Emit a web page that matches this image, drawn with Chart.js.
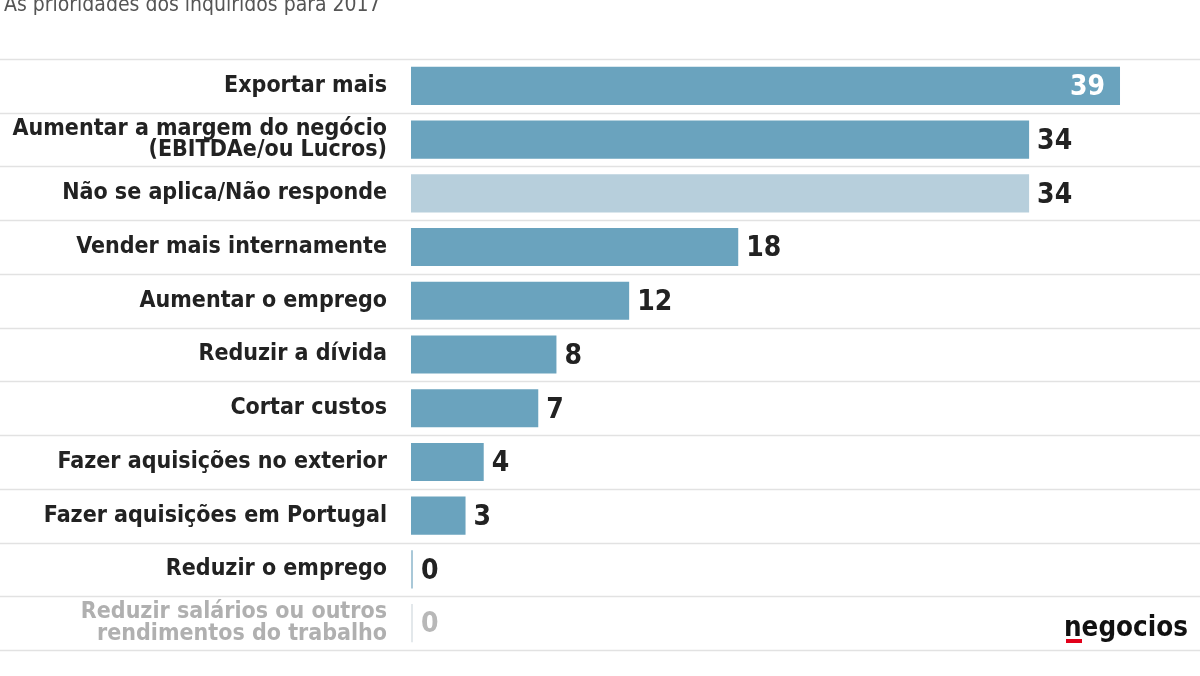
<!DOCTYPE html>
<html>
<head>
<meta charset="utf-8">
<script src="https://cdn.jsdelivr.net/npm/chart.js@4"></script>
<style>
  html, body { margin: 0; padding: 0; background: #fff; }
  #wrap { width: 1200px; height: 676px; position: relative; }
</style>
</head>
<body>
<div id="wrap"><canvas id="prioridades"></canvas></div>
<script>
const categories = [
  "Exportar mais",
  ["Aumentar a margem do negócio", "(EBITDAe/ou Lucros)"],
  "Não se aplica/Não responde",
  "Vender mais internamente",
  "Aumentar o emprego",
  "Reduzir a dívida",
  "Cortar custos",
  "Fazer aquisições no exterior",
  "Fazer aquisições em Portugal",
  "Reduzir o emprego",
  ["Reduzir salários ou outros", "rendimentos do trabalho"],
];
const values = [39, 34, 34, 18, 12, 8, 7, 4, 3, 0, 0];
const barColors = [
  "#6aa3be", "#6aa3be", "#b7cfdc", "#6aa3be", "#6aa3be", "#6aa3be",
  "#6aa3be", "#6aa3be", "#6aa3be", "#a9c8d8", "#e3e8eb",
];
const labelColors = ["#222", "#222", "#222", "#222", "#222", "#222", "#222", "#222", "#222", "#222", "#b0b0b0"];
const valueColors = ["#fff", "#222", "#222", "#222", "#222", "#222", "#222", "#222", "#222", "#222", "#b8b8b8"];
const titleText = "As prioridades dos inquiridos para 2017";

const FONT = "'DejaVu Sans Condensed', 'DejaVu Sans', sans-serif";

// row separators across the whole width
const rowLines = {
  id: "rowLines",
  beforeDatasetsDraw(chart) {
    const { ctx } = chart;
    const y = chart.scales.y;
    const half = (y.getPixelForValue(1) - y.getPixelForValue(0)) / 2;
    ctx.save();
    ctx.strokeStyle = "#e2e2e2";
    ctx.lineWidth = 1.5;
    for (let i = 0; i <= categories.length; i++) {
      const py = Math.round(y.getPixelForValue(i) - half) + 0.5;
      ctx.beginPath();
      ctx.moveTo(0, py);
      ctx.lineTo(chart.width, py);
      ctx.stroke();
    }
    ctx.restore();
  },
};

// numbers at the bar ends, title and logo
const extras = {
  id: "extras",
  afterDatasetsDraw(chart) {
    const { ctx } = chart;
    const meta = chart.getDatasetMeta(0);
    ctx.save();
    ctx.font = "bold 28px " + FONT;
    ctx.textBaseline = "middle";
    meta.data.forEach((bar, i) => {
      ctx.fillStyle = valueColors[i];
      if (i === 0) {
        ctx.textAlign = "right";
        ctx.fillText(values[i], bar.x - 15, bar.y + 2);
      } else {
        ctx.textAlign = "left";
        ctx.fillText(values[i], bar.x + 8, bar.y + 2);
      }
    });

    ctx.textAlign = "left";
    ctx.textBaseline = "alphabetic";
    ctx.fillStyle = "#555";
    ctx.font = "21px " + FONT;
    ctx.fillText(titleText, 4, 11);

    ctx.fillStyle = "#111";
    ctx.font = "bold 27.5px " + FONT;
    ctx.fillText("negocios", 1064, 636);
    ctx.fillStyle = "#e2001a";
    ctx.fillRect(1066, 639, 16, 4);
    ctx.restore();
  },
};

new Chart(document.getElementById("prioridades"), {
  type: "bar",
  data: {
    labels: categories,
    datasets: [
      {
        data: values,
        backgroundColor: barColors,
        borderWidth: 0,
        minBarLength: 2,
        categoryPercentage: 1,
        barPercentage: 0.71,
      },
    ],
  },
  options: {
    indexAxis: "y",
    responsive: true,
    maintainAspectRatio: false,
    animation: false,
    layout: { padding: { top: 59, bottom: 26, left: 0, right: 0 } },
    plugins: {
      legend: false,
      tooltip: { enabled: false },
    },
    scales: {
      x: {
        display: false,
        min: 0,
        max: 43.4,
      },
      y: {
        afterFit(scale) {
          scale.width = 411;
          // labels sit inside their rows, no overhang needed
          scale.paddingTop = 0;
          scale.paddingBottom = 0;
        },
        border: { display: false },
        grid: { display: false, drawTicks: false },
        ticks: {
          padding: 24,
          color: labelColors,
          font: { family: FONT, size: 23, weight: "bold", lineHeight: 0.95 },
        },
      },
    },
  },
  plugins: [rowLines, extras],
});
</script>
</body>
</html>
